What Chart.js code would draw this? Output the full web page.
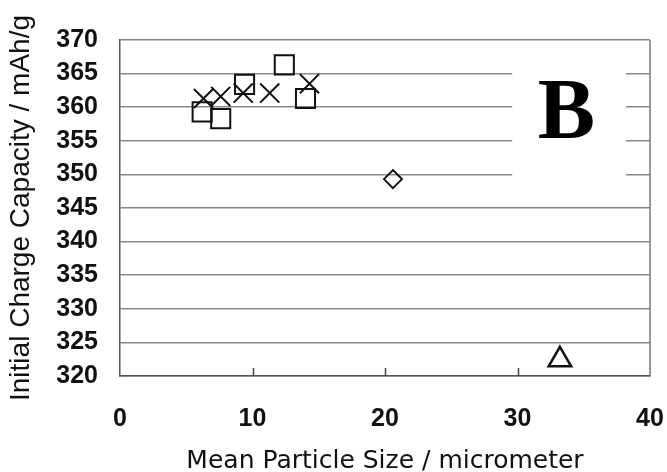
<!DOCTYPE html>
<html lang="en">
<head>
  <meta charset="UTF-8">
  <title>Initial Charge Capacity vs Mean Particle Size</title>
  <script src="https://cdn.jsdelivr.net/npm/chart.js"></script>
  <style>
    body {
      margin: 0;
      background: #fff;
    }
    #wrap {
      width: 667px;
      height: 472px;
    }
  </style>
</head>
<body>
  <div id="wrap"><canvas id="grafico" width="667" height="472"></canvas></div>

  <script>
    // mean particle size (micrometer) / initial charge capacity (mAh/g)
    const squareX = [6.2, 7.6, 9.4, 12.4, 14.0];
    const squareY = [359.3, 358.3, 363.4, 366.3, 361.3];

    const crossX = [6.3, 7.6, 9.3, 11.3, 14.3];
    const crossY = [361.3, 361.6, 362.1, 362.1, 363.5];

    const diamondX = [20.6];
    const diamondY = [349.3];

    const triangleX = [33.2];
    const triangleY = [322.4];

    const xTicks = [0, 10, 20, 30, 40];
    const yTicks = [320, 325, 330, 335, 340, 345, 350, 355, 360, 365, 370];

    const pares = (xs, ys) => xs.map((x, i) => ({ x: x, y: ys[i] }));

    function serie(xs, ys, estilo, raio, largura) {
      return {
        data: pares(xs, ys),
        pointStyle: estilo,
        pointRadius: raio,
        pointBorderWidth: largura,
        borderColor: '#111',
        backgroundColor: 'rgba(0,0,0,0)',
        showLine: false
      };
    }

    // big "B" panel letter, grid cleared behind it; right border and inner x ticks
    const letraPlugin = {
      id: 'letraB',
      beforeDatasetsDraw(chart) {
        const { ctx, scales, chartArea } = chart;
        const x0 = scales.x.getPixelForValue(29.6);
        const x1 = scales.x.getPixelForValue(38.2);
        const y0 = scales.y.getPixelForValue(367.4);
        const y1 = scales.y.getPixelForValue(347.2);
        ctx.save();
        ctx.fillStyle = '#fff';
        ctx.fillRect(x0, y0, x1 - x0, y1 - y0);
        ctx.fillStyle = '#000';
        ctx.font = 'bold 86px "Liberation Serif", "Times New Roman", serif';
        ctx.textAlign = 'center';
        ctx.textBaseline = 'alphabetic';
        ctx.fillText('B', scales.x.getPixelForValue(33.7), scales.y.getPixelForValue(355.4));

        ctx.strokeStyle = '#777';
        ctx.lineWidth = 1.5;
        ctx.beginPath();
        ctx.moveTo(chartArea.right, chartArea.top);
        ctx.lineTo(chartArea.right, chartArea.bottom);
        ctx.stroke();
        ctx.restore();
      },
      afterDatasetsDraw(chart) {
        const { ctx, scales, chartArea } = chart;
        ctx.save();
        ctx.strokeStyle = '#444';
        ctx.lineWidth = 1.5;
        xTicks.slice(1, -1).forEach(v => {
          const px = Math.round(scales.x.getPixelForValue(v)) + 0.5;
          ctx.beginPath();
          ctx.moveTo(px, chartArea.bottom);
          ctx.lineTo(px, chartArea.bottom - 8);
          ctx.stroke();
        });
        ctx.restore();
      }
    };

    const fonteTicks = { family: '"Liberation Sans", Arial, sans-serif', size: 25, weight: 'bold' };

    const config = {
      type: 'scatter',
      data: {
        datasets: [
          serie(squareX, squareY, 'rect', 13.5, 2),
          serie(crossX, crossY, 'crossRot', 13.5, 2),
          serie(diamondX, diamondY, 'rectRot', 9, 2),
          serie(triangleX, triangleY, 'triangle', 13, 2.5)
        ]
      },
      options: {
        responsive: false,
        animation: false,
        layout: { padding: { top: 40, right: 17, left: 0, bottom: 0 } },
        plugins: {
          legend: { display: false },
          tooltip: { enabled: false }
        },
        scales: {
          x: {
            type: 'linear',
            min: 0,
            max: 40,
            afterBuildTicks: s => { s.ticks = xTicks.map(v => ({ value: v })); },
            afterFit: s => { s.height = 96; s.paddingRight = 0; },
            grid: { drawOnChartArea: false, drawTicks: false },
            border: { color: '#555', width: 1.5 },
            ticks: { color: '#111', font: fonteTicks, padding: 28 },
            title: {
              display: true,
              text: 'Mean Particle Size / micrometer',
              color: '#111',
              font: { family: '"DejaVu Sans", sans-serif', size: 25, lineHeight: 1 },
              padding: { top: 8, bottom: -2 }
            }
          },
          y: {
            type: 'linear',
            min: 320,
            max: 370,
            afterBuildTicks: s => { s.ticks = yTicks.map(v => ({ value: v })); },
            afterFit: s => { s.width = 120; },
            grid: { color: '#888', lineWidth: 1.5, drawTicks: false },
            border: { color: '#555', width: 1.5 },
            ticks: { color: '#111', font: fonteTicks, padding: 22 },
            title: {
              display: true,
              text: 'Initial Charge Capacity / mAh/g',
              color: '#111',
              font: { family: '"Liberation Sans", Arial, sans-serif', size: 28 },
              padding: { bottom: 2 }
            }
          }
        }
      },
      plugins: [letraPlugin]
    };

    const grafico = new Chart(document.getElementById('grafico').getContext('2d'), config);
  </script>
</body>
</html>
